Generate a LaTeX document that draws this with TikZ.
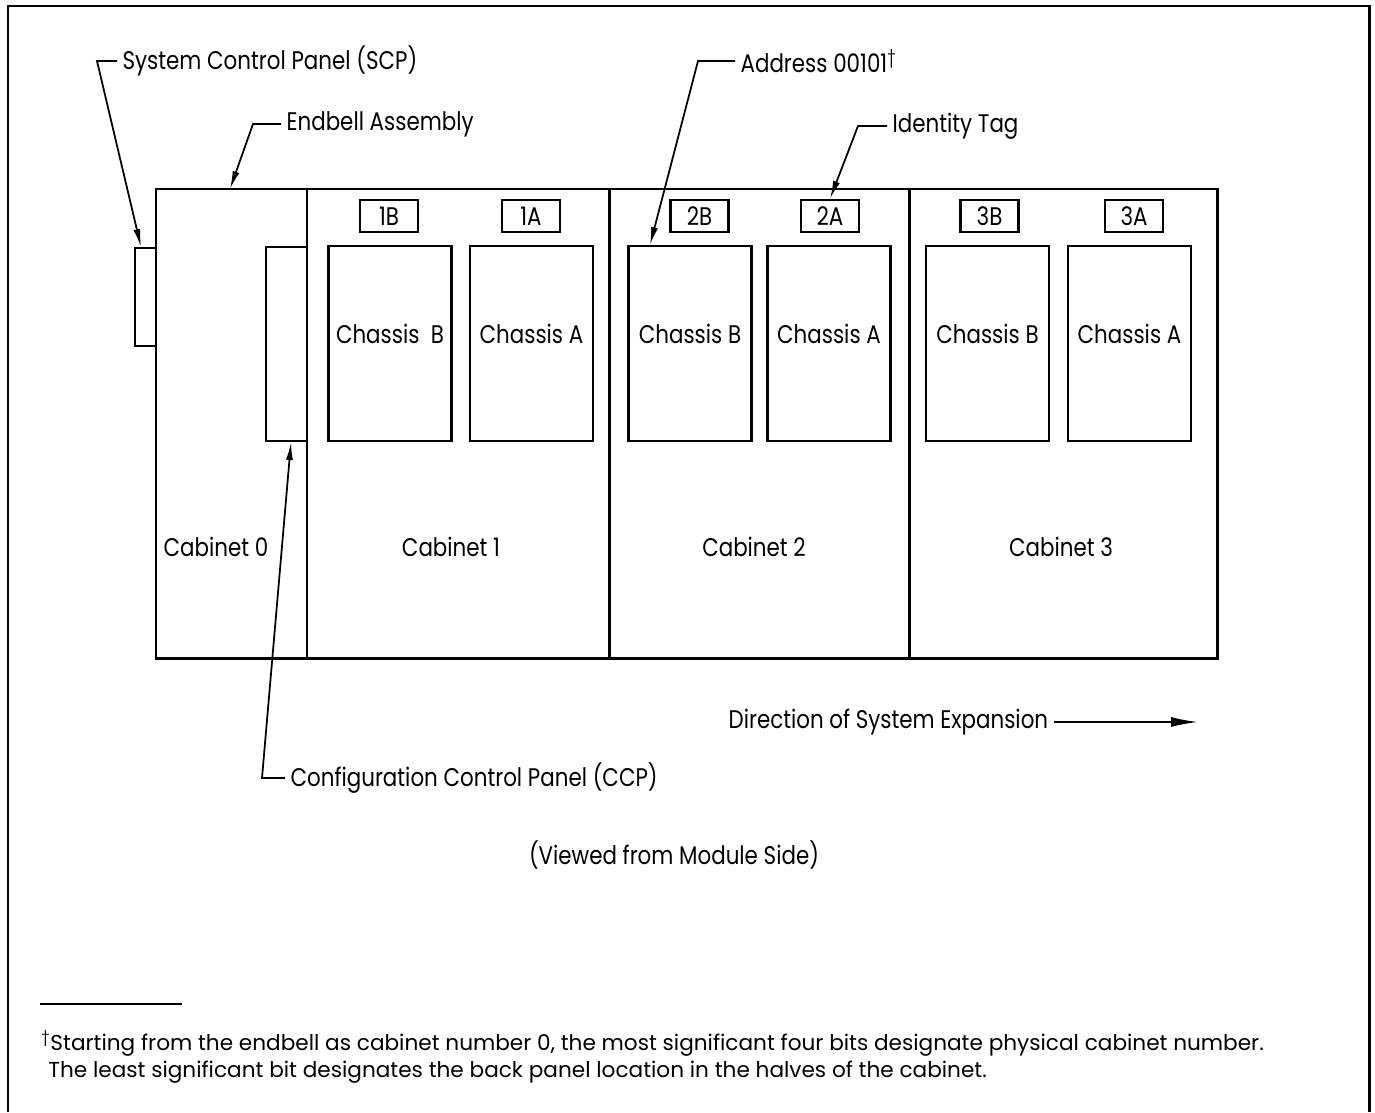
\documentclass[tikz,border=0pt]{standalone}
\usepackage{fontspec}
\newfontfamily\labfont{Poppins}[FakeStretch=0.84]
\newfontfamily\notefont{Poppins}
\usetikzlibrary{positioning,arrows.meta}

\begin{document}
\begin{tikzpicture}[x=0.02cm, y=-0.02cm,
  outline/.style={line width=1.7pt},
  chassis/.style={draw, line width=1.6pt, minimum width=2.46cm, minimum height=3.9cm, inner sep=0pt},
  tag/.style={draw, line width=1.4pt, minimum width=1.16cm, minimum height=0.64cm, inner sep=0pt, font=\labfont\fontsize{14.5}{16}\selectfont},
  panel/.style={draw, line width=1.6pt, inner sep=0pt},
  lbl/.style={font=\labfont\fontsize{14.5}{16}\selectfont, inner xsep=3pt, inner ysep=0pt},
  note/.style={font=\notefont\fontsize{12.3}{15}\selectfont, inner sep=0pt, anchor=base west},
  lead/.style={line width=1pt, -{Latex[length=3.6mm,width=1.4mm]}},
  hook/.style={line width=1pt}
]
\useasboundingbox (0,0) rectangle (1375,1112);

% page frame, open at the foot
\draw[outline] (8,1112) -- (8,6) -- (1369,6) -- (1369,1112);

% cabinet row
\draw[outline] (156,189) rectangle (1217,658);
\draw[outline] (307,189) -- (307,658);
\draw[outline] (609,189) -- (609,658);
\draw[outline] (909,189) -- (909,658);

% panels on the endbell
\node[panel, minimum width=0.42cm, minimum height=1.96cm] (scpbox) at (145.5,297) {};
\node[panel, minimum width=0.82cm, minimum height=3.88cm] (ccpbox) at (286.5,344) {};

% chassis
\node[chassis] (c1b) at (390,343.5) {};
\node[chassis] (c1a) at (531.5,343.5) {};
\node[chassis] (c2b) at (690,343.5) {};
\node[chassis] (c2a) at (829,343.5) {};
\node[chassis] (c3b) at (987.5,343.5) {};
\node[chassis] (c3a) at (1129.5,343.5) {};

\node[lbl, anchor=base] (l1b) at (c1b.center) {Chassis\ \ B};
\node[lbl, anchor=base] (l1a) at (c1a.center) {Chassis A};
\node[lbl, anchor=base] (l2b) at (c2b.center) {Chassis B};
\node[lbl, anchor=base] (l2a) at (c2a.center) {Chassis A};
\node[lbl, anchor=base] (l3b) at (c3b.center) {Chassis B};
\node[lbl, anchor=base] (l3a) at (c3a.center) {Chassis A};

% identity tags
\node[tag] (t1b) at (389,216) {1B};
\node[tag] (t1a) at (531,216) {1A};
\node[tag] (t2b) at (699.5,216) {2B};
\node[tag] (t2a) at (830,216) {2A};
\node[tag] (t3b) at (989.5,216) {3B};
\node[tag] (t3a) at (1134,216) {3A};

% cabinet names
\node[lbl, anchor=base] (cab0) at (216,556) {Cabinet 0};
\node[lbl, anchor=base] (cab1) at (451,556) {Cabinet 1};
\node[lbl, anchor=base] (cab2) at (754,556) {Cabinet 2};
\node[lbl, anchor=base] (cab3) at (1061,556) {Cabinet 3};

% callouts
\node[lbl, anchor=west] (scp) at (117,61) {System Control Panel (SCP)};
\coordinate (scpbend) at (97,61);
\coordinate (scptip) at (141,247);
\draw[lead] (scp.west) -- (scpbend) -- (scptip);

\node[lbl, anchor=west] (endbell) at (281,124) {Endbell Assembly};
\coordinate (endbend) at (253,124);
\coordinate (endtip) at (230,189);
\draw[lead] (endbell.west) -- (endbend) -- (endtip);

\node[lbl, anchor=west] (addr) at (735,61) {Address 00101\textsuperscript{†}};
\coordinate (addrbend) at (698,61);
\coordinate (addrtip) at (650,245);
\draw[lead] (addr.west) -- (addrbend) -- (addrtip);

\node[lbl, anchor=west] (idtag) at (887,126) {Identity Tag};
\coordinate (idbend) at (858,126);
\draw[lead] (idtag.west) -- (idbend) -- (t2a.north);

\node[lbl, anchor=west] (ccp) at (285,778) {Configuration Control Panel (CCP)};
\coordinate (ccpbend) at (262,778);
\coordinate (ccptip) at (291,442);
\draw[lead] (ccp.west) -- (ccpbend) -- (ccptip);

\node[lbl, anchor=west] (expand) at (723,722) {Direction of System Expansion};
\coordinate (expend) at (1198,722);
\draw[line width=1pt, -{Latex[length=5.4mm,width=2mm]}] (expand.east) -- (expend);

\node[lbl] (viewed) at (674,855) {(Viewed from Module Side)};

% footnote
\draw[line width=1pt] (40,1004) -- (182,1004);
\node[note] (fnote1) at (41,1050)
  {\textsuperscript{†}Starting from the endbell as cabinet number 0, the most significant four bits designate physical cabinet number.};
\node[note] (fnote2) at (48,1077)
  {The least significant bit designates the back panel location in the halves of the cabinet.};
\end{tikzpicture}
\end{document}
